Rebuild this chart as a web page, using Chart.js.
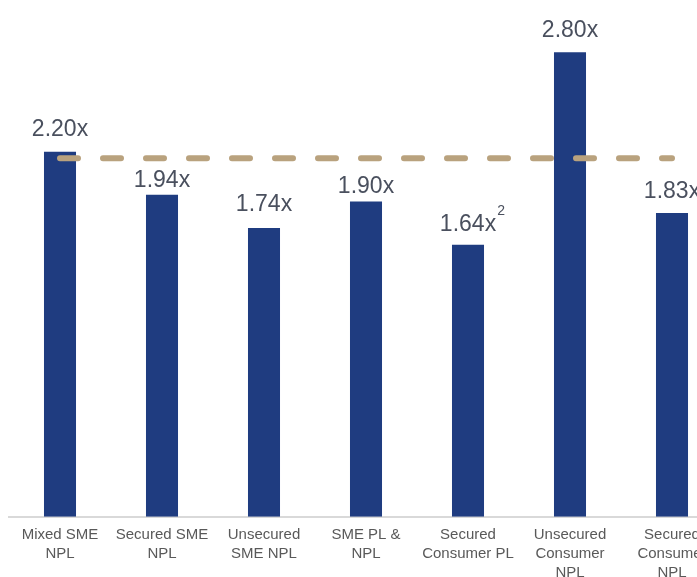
<!DOCTYPE html>
<html>
<head>
<meta charset="utf-8">
<script src="https://cdn.jsdelivr.net/npm/chart.js@4.4.0/dist/chart.umd.min.js"></script>
<style>
  html, body { margin: 0; padding: 0; background: #fff; overflow: hidden; }
  #wrap { width: 724px; height: 600px; }
</style>
</head>
<body>
<div id="wrap"><canvas id="chart" width="724" height="600"></canvas></div>
<script>
// categories and values
const categories = [
    ['Mixed SME', 'NPL'],
    ['Secured SME', 'NPL'],
    ['Unsecured', 'SME NPL'],
    ['SME PL &', 'NPL'],
    ['Secured', 'Consumer PL'],
    ['Unsecured', 'Consumer', 'NPL'],
    ['Secured', 'Consumer', 'NPL']
];
const multiples = [2.20, 1.94, 1.74, 1.90, 1.64, 2.80, 1.83];
const valueLabels = ['2.20x', '1.94x', '1.74x', '1.90x', '1.64x', '2.80x', '1.83x'];
const footnotes = ['', '', '', '', '2', '', ''];
const averageLine = [2.16, 2.16, 2.16, 2.16, 2.16, 2.16, 2.16];

const barLabels = {
    id: 'barLabels',
    afterDatasetsDraw(chart, args, opts) {
        let ctx = chart.ctx;
        let meta = chart.getDatasetMeta(0);
        ctx.save();
        ctx.textAlign = 'center';
        ctx.textBaseline = 'alphabetic';
        meta.data.forEach((bar, i) => {
            let y = bar.y - opts.lift[i];
            ctx.font = '23px "Liberation Sans", Arial, sans-serif';
            ctx.fillStyle = '#4a505e';
            ctx.fillText(valueLabels[i], bar.x, y);
            if (footnotes[i]) {
                let w = ctx.measureText(valueLabels[i]).width;
                ctx.font = '14px "Liberation Sans", Arial, sans-serif';
                ctx.textAlign = 'left';
                ctx.fillText(footnotes[i], bar.x + w / 2 + 1, y - 16);
                ctx.textAlign = 'center';
            }
        });
        ctx.restore();
    }
};

new Chart(document.getElementById('chart'), {
    data: {
        labels: categories,
        datasets: [{
            type: 'bar',
            data: multiples,
            backgroundColor: '#1f3c80',
            barPercentage: 0.314,
            categoryPercentage: 1,
            order: 2
        }, {
            type: 'line',
            data: averageLine,
            borderColor: '#b9a27e',
            borderWidth: 6,
            borderDash: [18, 25],
            borderCapStyle: 'round',
            pointRadius: 0,
            fill: false,
            order: 1
        }]
    },
    options: {
        responsive: false,
        animation: false,
        layout: { padding: { top: 19, left: 9, right: 1, bottom: 9 } },
        plugins: {
            legend: { display: false },
            tooltip: { enabled: false },
            barLabels: { lift: [16, 8, 17, 9, 14, 15, 15] }
        },
        scales: {
            x: {
                grid: { display: false, drawTicks: false },
                border: { display: true, color: '#d9d9d9', width: 2 },
                ticks: {
                    color: '#595959',
                    padding: 9,
                    maxRotation: 0,
                    autoSkip: false,
                    font: { family: '"Liberation Sans", Arial, sans-serif', size: 15, lineHeight: 1.25 }
                }
            },
            y: {
                display: false,
                min: 0,
                max: 3
            }
        }
    },
    plugins: [barLabels]
});
</script>
</body>
</html>
